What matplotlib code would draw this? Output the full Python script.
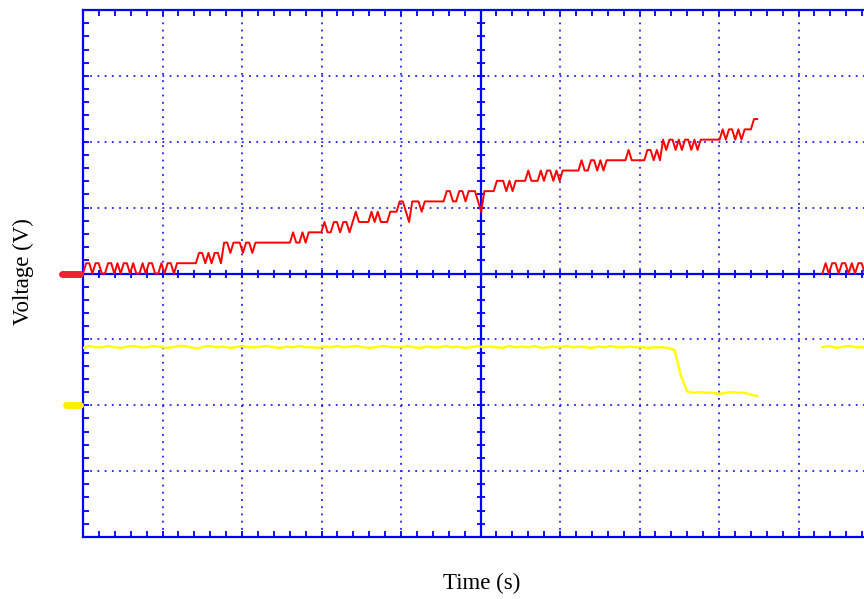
import numpy as np
import matplotlib
matplotlib.use("Agg")
import matplotlib.pyplot as plt
import matplotlib.transforms as mtransforms

# ---------------- data (oscilloscope divisions) ----------------
# quantisation step of channel 1 (red) in divisions
red_q = 0.1563
# channel 1 sweep 1: quantised levels, uniformly sampled from t=0 to t=8.48 div
red_levels = [
    0,1,1,0,1,1,0,0,1,1,0,1,0,1,1,0,1,0,0,1,0,1,1,0,0,1,0,1,1,0,
    1,1,1,1,1,1,1,
    2,2,1,2,1,2,2,1,
    3,3,2,3,3,3,2,3,3,2,
    3,3,3,3,3,3,3,3,3,3,3,3,
    4,3,3,
    4,3,4,4,4,4,4,
    5,4,4,5,5,4,5,5,4,5,6,
    5,5,5,5,
    6,5,6,
    5,5,5,
    6,6,6,7,7,6,5,7,
    7,7,6,7,7,7,7,7,7,7,
    8,8,7,7,8,8,7,8,8,8,
    7,6,
    8,8,8,8,
    9,9,9,
    8,9,8,9,
    9,9,9,
    10,9,9,9,10,9,10,10,9,10,9,10,
    10,10,10,10,10,
    11,10,10,11,11,
    10,11,10,11,
    11,11,11,11,11,11,
    12,
    11,11,11,11,11,
    12,12,11,12,11,
    13,12,13,
    13,12,13,12,13,13,12,13,12,13,13,
    13,13,13,13,13,
    14,13,
    14,14,
    13,14,13,
    14,14,14,
    15,15,
]
red_t_span = (0.0, 8.48)
# channel 1 sweep 2 (new acquisition at right edge)
red_levels2 = [0,1,0,1,1,0,1,1,0,1,0,1,1,0,1,0,1,1]
red_t_span2 = (9.30, 10.0)

# channel 2 (yellow), values in divisions, uniformly sampled 0 .. 8.48 div
yellow_vals = [
    -1.13,-1.10,-1.12,-1.12,-1.10,-1.12,-1.13,-1.11,-1.10,-1.12,
    -1.12,-1.10,-1.11,-1.13,-1.12,-1.10,-1.10,-1.12,-1.14,-1.11,
    -1.10,-1.12,-1.11,-1.13,-1.12,-1.10,-1.12,-1.12,-1.11,-1.10,
    -1.12,-1.13,-1.11,-1.12,-1.10,-1.12,-1.12,-1.13,-1.11,-1.12,
    -1.10,-1.12,-1.11,-1.10,-1.12,-1.13,-1.12,-1.10,-1.11,-1.12,
    -1.12,-1.10,-1.12,-1.13,-1.11,-1.12,-1.12,-1.10,-1.12,-1.11,
    -1.13,-1.12,-1.10,-1.12,-1.11,-1.12,-1.13,-1.10,-1.12,-1.11,
    -1.12,-1.10,-1.13,-1.12,-1.11,-1.12,-1.10,-1.12,-1.11,-1.12,
    -1.13,-1.11,-1.12,-1.10,-1.12,-1.12,-1.11,-1.12,-1.12,-1.13,
    -1.12,-1.12,-1.13,
    -1.16,-1.55,-1.79,
    -1.81,-1.80,-1.81,-1.81,-1.83,-1.81,-1.80,-1.81,-1.81,-1.84,-1.86,
]
yellow_t_span = (0.0, 8.48)
yellow_vals2 = [-1.12,-1.10,-1.13,-1.11,-1.10,-1.12,-1.12,-1.12,-1.11]
yellow_t_span2 = (9.30, 10.0)

# channel ground reference markers (divisions)
ch_offsets = [0.0, -2.0]
ch_colors = ["#ee2233", "#ffee00"]

n_xdiv = 10
n_ydiv = 8

BLUE = "#0000ff"
RED = "#ff0000"
YELLOW = "#ffff00"

# ---------------- figure ----------------
fig = plt.figure(figsize=(8.64, 5.99), dpi=100)
W, H = 864, 599
left_px, top_px, bottom_px = 83, 10, 537
div_px = 79.5
ax = fig.add_axes([left_px / W, (H - bottom_px) / H,
                   n_xdiv * div_px / W, (bottom_px - top_px) / H])
ax.set_xlim(0, n_xdiv)
ax.set_ylim(-n_ydiv / 2, n_ydiv / 2)

# dotted graticule
for xv in range(1, n_xdiv):
    if xv != n_xdiv // 2:
        ax.axvline(xv, color="#2020ff", lw=1.3, dashes=(1, 3), zorder=1)
for yv in range(-n_ydiv // 2 + 1, n_ydiv // 2):
    if yv != 0:
        ax.axhline(yv, color="#2020ff", lw=1.3, dashes=(1, 3), zorder=1)

# solid centre lines with cross ticks
ax.axhline(0, color=BLUE, lw=1.6, zorder=2)
ax.axvline(n_xdiv / 2, color=BLUE, lw=1.6, zorder=2)
xs_minor = np.arange(0, n_xdiv + 0.001, 0.2)
ys_minor = np.arange(-n_ydiv / 2, n_ydiv / 2 + 0.001, 0.2)
ax.plot(xs_minor, np.zeros_like(xs_minor), ls="none", marker="|",
        ms=6, mew=1.3, color=BLUE, zorder=2)
ax.plot(np.full_like(ys_minor, n_xdiv / 2), ys_minor, ls="none", marker="_",
        ms=6, mew=1.3, color=BLUE, zorder=2)

# spines & ticks
for sp in ax.spines.values():
    sp.set_color(BLUE)
    sp.set_linewidth(1.6)
ax.set_xticks(xs_minor)
ax.set_yticks(ys_minor)
ax.tick_params(direction="in", length=4, width=1.3, color=BLUE,
               top=True, right=True, labelbottom=False, labelleft=False)

# traces
rl = np.array(red_levels) * red_q
rt = np.linspace(*red_t_span, len(rl))
ax.plot(rt, rl, color=RED, lw=1.4, zorder=4)
rl2 = np.array(red_levels2) * red_q
rt2 = np.linspace(*red_t_span2, len(rl2))
ax.plot(rt2, rl2, color=RED, lw=1.4, zorder=4)

yv_ = np.array(yellow_vals)
yt = np.linspace(*yellow_t_span, len(yv_))
ax.plot(yt, yv_, color=YELLOW, lw=1.7, zorder=3)
yv2 = np.array(yellow_vals2)
yt2 = np.linspace(*yellow_t_span2, len(yv2))
ax.plot(yt2, yv2, color=YELLOW, lw=1.7, zorder=3)

# channel markers on the left
trans = mtransforms.blended_transform_factory(ax.transAxes, ax.transData)
for off, col, x0 in zip(ch_offsets, ch_colors, [-0.027, -0.022]):
    ax.plot([x0, -0.004], [off, off], transform=trans, color=col, lw=5,
            solid_capstyle="round", clip_on=False, zorder=5)

# labels
fig.text(23 / W, 1 - 272 / H, "Voltage (V)", rotation=90, ha="center",
         va="center", family="Liberation Serif", fontsize=16.5)
fig.text(482 / W, 1 - 583 / H, "Time (s)", ha="center", va="center",
         family="Liberation Serif", fontsize=16.5)

fig.savefig("out.png", dpi=100)
